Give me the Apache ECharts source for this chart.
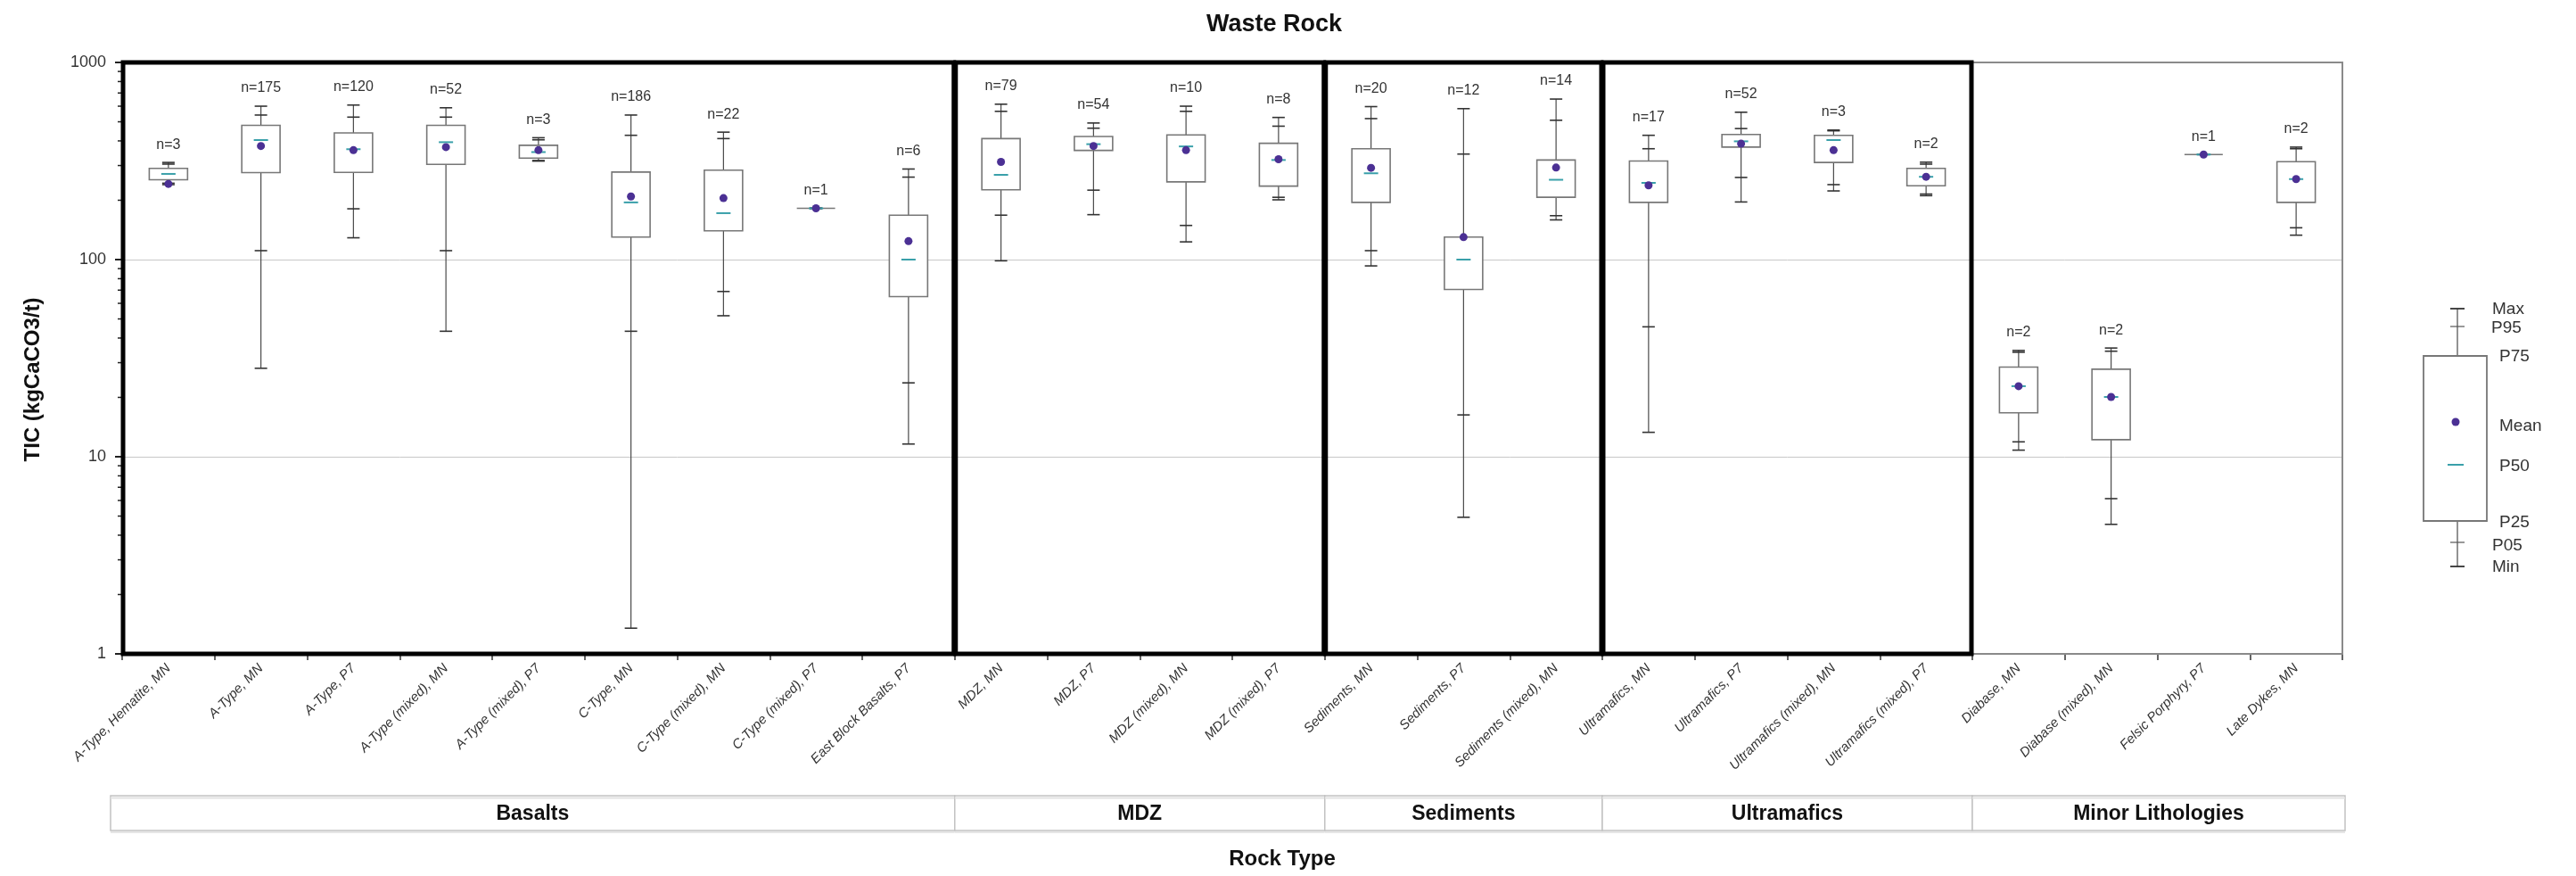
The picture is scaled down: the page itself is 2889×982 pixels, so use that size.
<!DOCTYPE html>
<html>
<head>
<meta charset="utf-8">
<title>Waste Rock</title>
<script src="https://cdn.jsdelivr.net/npm/echarts@6/dist/echarts.min.js"></script>
<style>
  html, body { margin: 0; padding: 0; background: #fff; }
  #chart { width: 2889px; height: 982px; }
</style>
</head>
<body>
<div id="chart"></div>
<script>
// Rock types along the x axis
const categories = [
  'A-Type, Hematite, MN', 'A-Type, MN', 'A-Type, P7', 'A-Type (mixed), MN', 'A-Type (mixed), P7',
  'C-Type, MN', 'C-Type (mixed), MN', 'C-Type (mixed), P7', 'East Block Basalts, P7',
  'MDZ, MN', 'MDZ, P7', 'MDZ (mixed), MN', 'MDZ (mixed), P7',
  'Sediments, MN', 'Sediments, P7', 'Sediments (mixed), MN',
  'Ultramafics, MN', 'Ultramafics, P7', 'Ultramafics (mixed), MN', 'Ultramafics (mixed), P7',
  'Diabase, MN', 'Diabase (mixed), MN', 'Felsic Porphyry, P7', 'Late Dykes, MN'
];

// Lithology groups (consecutive runs of categories)
const groupNames = ['Basalts', 'MDZ', 'Sediments', 'Ultramafics', 'Minor Lithologies'];
const groupSizes = [9, 4, 3, 4, 4];
const groupFramed = [true, true, true, true, false];

// Number of samples per rock type
const sampleCounts = [3, 175, 120, 52, 3, 186, 22, 1, 6, 79, 54, 10, 8, 20, 12, 14, 17, 52, 3, 2, 2, 2, 1, 2];

// TIC statistics (kgCaCO3/t)
const maxVals  = [311, 600, 608, 589, 415, 541, 443, 182, 288, 614, 493, 600, 526, 597, 583, 652, 427, 559, 454, 312, 34.6, 35.6, 341, 372];
const p95Vals  = [305, 541, 528, 528, 405, 427, 411, 182, 262, 565, 464, 565, 475, 519, 343, 509, 365, 462, 450, 305, 33.9, 34.3, 341, 365];
const p75Vals  = [290, 480, 439, 480, 380, 278, 284, 182, 168, 411, 421, 429, 389, 365, 130, 320, 316, 431, 427, 290, 28.5, 27.8, 341, 314];
const p50Vals  = [272, 404, 363, 394, 351, 195, 172, 182, 100, 269, 385, 375, 320, 274, 100, 254, 245, 398, 404, 263, 22.8, 20.1, 341, 256];
const p25Vals  = [254, 276, 277, 304, 327, 130, 140, 182, 64.9, 226, 358, 248, 236, 195, 70.5, 207, 195, 372, 311, 237, 16.7, 12.2, 341, 195];
const p05Vals  = [244, 111, 181, 111, 318, 43.3, 68.9, 182, 23.7, 168, 225, 149, 207, 111, 16.3, 167, 45.6, 261, 240, 215, 11.9, 6.13, 341, 145];
const minVals  = [240, 28.1, 129, 43.3, 316, 1.35, 51.9, 182, 11.6, 98.6, 169, 123, 201, 92.9, 4.93, 159, 13.3, 196, 223, 211, 10.8, 4.54, 341, 133];
const meanVals = [242, 377, 359, 372, 359, 209, 205, 182, 124, 313, 377, 359, 323, 292, 130, 293, 238, 387, 359, 263, 22.8, 20.1, 341, 256];

// Y axis range and decade labels
const yMin = 1;
const yMax = 1000;

const FONT = '"Liberation Sans", Arial, sans-serif';
const MEAN_COLOR = '#4b3094';
const MEDIAN_COLOR = '#3aa0aa';

const boxData = categories.map((c, i) => [
  i, maxVals[i], p95Vals[i], p75Vals[i], p50Vals[i], p25Vals[i], p05Vals[i], minVals[i], meanVals[i], sampleCounts[i]
]);

let start = 0;
const groupData = groupNames.map((g, k) => {
  const row = [start, start + groupSizes[k] - 1, yMin, yMax, groupFramed[k] ? 1 : 0, k];
  start += groupSizes[k];
  return row;
});

function renderBox(params, api) {
  const i = api.value(0);
  const bw = api.size([1, 1])[0];
  const half = bw * 0.207;
  const cap = 7;
  const y = v => api.coord([i, v])[1];
  const cx = api.coord([i, api.value(1)])[0];
  const yMx = y(api.value(1)), y95 = y(api.value(2)), y75 = y(api.value(3)), y50 = y(api.value(4));
  const y25 = y(api.value(5)), y05 = y(api.value(6)), yMn = y(api.value(7)), yMean = y(api.value(8));
  const whisker = { stroke: '#4a4a4a', lineWidth: 1.2 };
  const capStyle = { stroke: '#333', lineWidth: 1.6 };
  const children = [
    { type: 'line', shape: { x1: cx, y1: yMx, x2: cx, y2: y75 }, style: whisker },
    { type: 'line', shape: { x1: cx, y1: y25, x2: cx, y2: yMn }, style: whisker }
  ];
  [yMx, y95, y05, yMn].forEach(yy => children.push({
    type: 'line', shape: { x1: cx - cap, y1: yy, x2: cx + cap, y2: yy }, style: capStyle
  }));
  children.push({
    type: 'rect',
    shape: { x: cx - half, y: y75, width: half * 2, height: Math.max(0, y25 - y75) },
    style: { fill: '#fff', stroke: '#777', lineWidth: 1.6 }
  });
  children.push({
    type: 'line', shape: { x1: cx - 8, y1: y50, x2: cx + 8, y2: y50 },
    style: { stroke: MEDIAN_COLOR, lineWidth: 2 }
  });
  children.push({
    type: 'circle', shape: { cx: cx, cy: yMean, r: 4.5 }, style: { fill: MEAN_COLOR }
  });
  children.push({
    type: 'text',
    style: {
      text: 'n=' + api.value(9), x: cx, y: yMx - 12,
      align: 'center', verticalAlign: 'bottom',
      fill: '#333', font: '16px ' + FONT
    }
  });
  return { type: 'group', children: children };
}

function renderGroup(params, api) {
  const s = api.value(0), e = api.value(1);
  const framed = api.value(4) === 1;
  const k = api.value(5);
  const bw = api.size([1, 1])[0];
  const x0 = api.coord([s, yMin])[0] - bw / 2;
  const x1 = api.coord([e, yMin])[0] + bw / 2;
  const yTop = api.coord([s, yMax])[1];
  const yBot = api.coord([s, yMin])[1];
  const children = [];

  // panel frame
  if (framed) {
    children.push({
      type: 'rect',
      shape: { x: x0 + 1, y: yTop, width: x1 - x0 - 2, height: yBot - yTop },
      style: { fill: null, stroke: '#000', lineWidth: 5 },
      z2: 10
    });
  } else {
    children.push({
      type: 'rect',
      shape: { x: x0, y: yTop, width: x1 - x0, height: yBot - yTop },
      style: { fill: null, stroke: '#8a8a8a', lineWidth: 2 },
      z2: 5
    });
  }

  // minor ticks on the log axis (2..9 of each decade)
  if (s === 0) {
    for (let d = 1; d < yMax; d *= 10) {
      for (let m = 2; m <= 9; m++) {
        const yy = api.coord([s, d * m])[1];
        children.push({
          type: 'line', shape: { x1: x0 - 5, y1: yy, x2: x0, y2: yy },
          style: { stroke: '#222', lineWidth: 1.5 }
        });
      }
    }
  }

  // group label cell beneath the category labels
  const tTop = yBot + 159;
  const tH = 39;
  const cx0 = s === 0 ? x0 - 13 : x0;
  const cx1 = e === categories.length - 1 ? x1 + 3 : x1;
  children.push({
    type: 'rect',
    shape: { x: cx0, y: tTop, width: cx1 - cx0, height: tH },
    style: { fill: '#fff', stroke: '#c2c2c2', lineWidth: 1.5 }
  });
  children.push({
    type: 'line', shape: { x1: cx0, y1: tTop + 2.5, x2: cx1, y2: tTop + 2.5 },
    style: { stroke: '#e2e2e2', lineWidth: 2 }
  });
  children.push({
    type: 'line', shape: { x1: cx0, y1: tTop + tH + 2, x2: cx1, y2: tTop + tH + 2 },
    style: { stroke: '#e6e6e6', lineWidth: 2 }
  });
  children.push({
    type: 'text',
    style: {
      text: groupNames[k], x: (cx0 + cx1) / 2, y: tTop + tH / 2 + 1,
      align: 'center', verticalAlign: 'middle',
      fill: '#111', font: 'bold 23px ' + FONT
    }
  });
  return { type: 'group', children: children };
}

// Key explaining the box elements, placed right of the plot
const LX = 2756, LBOX = [2718, 399, 71, 185];
const keyStyle = { fill: '#333', font: '19px ' + FONT, verticalAlign: 'middle' };
const keyGraphic = [
  { type: 'line', shape: { x1: LX, y1: 346, x2: LX, y2: 635 }, style: { stroke: '#4a4a4a', lineWidth: 1.2 } },
  { type: 'line', shape: { x1: LX - 8, y1: 346, x2: LX + 8, y2: 346 }, style: { stroke: '#333', lineWidth: 1.8 } },
  { type: 'line', shape: { x1: LX - 8, y1: 366, x2: LX + 8, y2: 366 }, style: { stroke: '#555', lineWidth: 1.2 } },
  { type: 'line', shape: { x1: LX - 8, y1: 608, x2: LX + 8, y2: 608 }, style: { stroke: '#555', lineWidth: 1.2 } },
  { type: 'line', shape: { x1: LX - 8, y1: 635, x2: LX + 8, y2: 635 }, style: { stroke: '#333', lineWidth: 1.8 } },
  { type: 'rect', shape: { x: LBOX[0], y: LBOX[1], width: LBOX[2], height: LBOX[3] }, style: { fill: '#fff', stroke: '#777', lineWidth: 1.8 } },
  { type: 'circle', shape: { cx: LX - 2, cy: 473, r: 4.5 }, style: { fill: MEAN_COLOR } },
  { type: 'line', shape: { x1: LX - 11, y1: 521, x2: LX + 7, y2: 521 }, style: { stroke: MEDIAN_COLOR, lineWidth: 2 } },
  { type: 'text', style: Object.assign({ text: 'Max', x: 2795, y: 347 }, keyStyle) },
  { type: 'text', style: Object.assign({ text: 'P95', x: 2794, y: 368 }, keyStyle) },
  { type: 'text', style: Object.assign({ text: 'P75', x: 2803, y: 400 }, keyStyle) },
  { type: 'text', style: Object.assign({ text: 'Mean', x: 2803, y: 478 }, keyStyle) },
  { type: 'text', style: Object.assign({ text: 'P50', x: 2803, y: 523 }, keyStyle) },
  { type: 'text', style: Object.assign({ text: 'P25', x: 2803, y: 586 }, keyStyle) },
  { type: 'text', style: Object.assign({ text: 'P05', x: 2795, y: 612 }, keyStyle) },
  { type: 'text', style: Object.assign({ text: 'Min', x: 2795, y: 636 }, keyStyle) }
];

const chart = echarts.init(document.getElementById('chart'));
chart.setOption({
  animation: false,
  backgroundColor: '#fff',
  title: {
    text: 'Waste Rock',
    left: 1348,
    top: 9,
    textStyle: { fontFamily: FONT, fontSize: 27, fontWeight: 'bold', color: '#111' }
  },
  grid: { left: 137, right: 262, top: 70, bottom: 249 },
  xAxis: {
    type: 'category',
    data: categories,
    boundaryGap: true,
    name: 'Rock Type',
    nameLocation: 'middle',
    nameGap: 218,
    nameTextStyle: { fontFamily: FONT, fontSize: 24, fontWeight: 'bold', color: '#111', padding: [0, 0, 0, 112] },
    axisLine: { show: true, lineStyle: { color: '#8a8a8a', width: 2 } },
    axisTick: { show: true, length: 7, lineStyle: { color: '#333', width: 1.5 } },
    axisLabel: {
      interval: 0, rotate: 45, margin: 14,
      fontFamily: FONT, fontSize: 15, fontStyle: 'italic', color: '#333'
    },
    splitLine: { show: false }
  },
  yAxis: {
    type: 'log',
    logBase: 10,
    min: yMin,
    max: yMax,
    name: 'TIC (kgCaCO3/t)',
    nameLocation: 'middle',
    nameGap: 88,
    nameTextStyle: { fontFamily: FONT, fontSize: 24, fontWeight: 'bold', color: '#111', padding: [0, 48, 0, 0] },
    axisLine: { show: false },
    axisTick: { show: true, length: 8, lineStyle: { color: '#222', width: 2 } },
    minorTick: { show: false },
    axisLabel: {
      margin: 18, fontFamily: FONT, fontSize: 18, color: '#333',
      formatter: v => String(Math.round(v))
    },
    splitLine: { show: true, lineStyle: { color: '#c8c8c8', width: 1 } }
  },
  graphic: keyGraphic,
  series: [
    {
      type: 'custom',
      name: 'TIC',
      data: boxData,
      encode: { x: 0, y: [1, 2, 3, 4, 5, 6, 7, 8] },
      renderItem: renderBox,
      clip: false,
      z: 3
    },
    {
      type: 'custom',
      name: 'groups',
      data: groupData,
      encode: { x: [0, 1], y: [2, 3] },
      renderItem: renderGroup,
      clip: false,
      silent: true,
      z: 5
    }
  ]
});
</script>
</body>
</html>
